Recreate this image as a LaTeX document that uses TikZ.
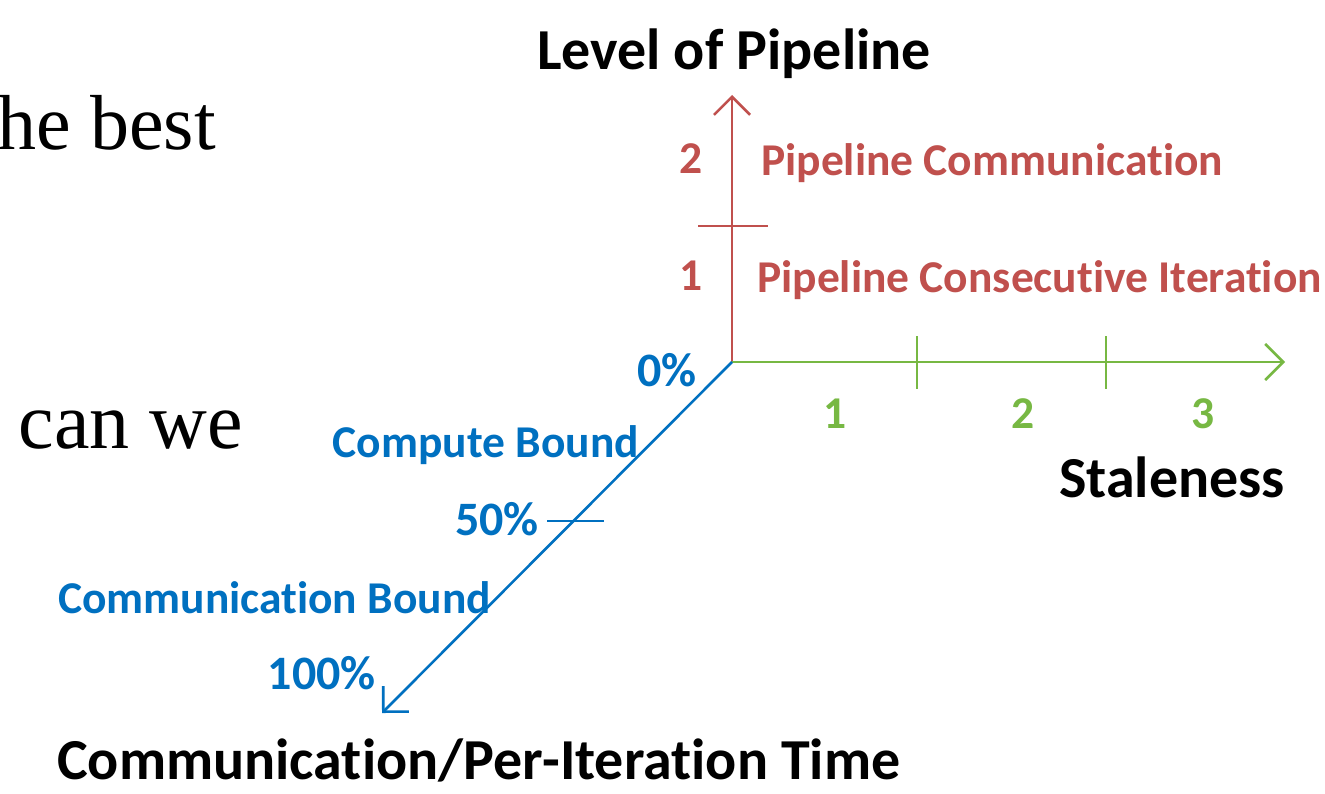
\documentclass[tikz,border=0pt]{standalone}
\usepackage{fontspec}
\setmainfont{Carlito}[Ligatures=NoCommon]
\newfontfamily\serifface{Liberation Serif}
\usetikzlibrary{arrows.meta}
\definecolor{axred}{HTML}{C0504D}
\definecolor{axgreen}{HTML}{77B843}
\definecolor{axblue}{HTML}{0070C0}
\begin{document}
\begin{tikzpicture}[x=1pt,y=-1pt,
  axisline/.style={line width=2.6pt, -{Straight Barb[length=18pt,width=36pt]}},
  tickline/.style={line width=2.6pt},
  bigtext/.style={font=\fontsize{58}{60}\selectfont\bfseries, inner sep=0pt},
  labtext/.style={font=\fontsize{45.5}{47}\selectfont\bfseries, inner sep=0pt},
  pcttext/.style={font=\fontsize{48}{50}\selectfont\bfseries, inner sep=0pt},
  sertext/.style={font=\serifface\fontsize{80}{84}\selectfont, inner sep=0pt}]
\useasboundingbox (0,0) rectangle (1325,794);
\fill[white] (0,0) rectangle (1325,794);

% background serif text
\node[sertext, anchor=base west, font=\serifface\fontsize{78}{82}\selectfont] (best) at (-3,150) {he best};
\node[sertext, anchor=base east] (canwe) at (243,448) {can we};

% axis coordinates
\coordinate (O) at (732,362);
\coordinate (Ytip) at (732,95);
\coordinate (Xtip) at (1285,362);
\coordinate (Ztip) at (382,713);
\coordinate (yt1) at (698,226);
\coordinate (yt2) at (768,226);
\coordinate (xa1) at (917,336);
\coordinate (xa2) at (917,389);
\coordinate (xb1) at (1106,336);
\coordinate (xb2) at (1106,389);
\coordinate (zt1) at (547,521);
\coordinate (zt2) at (604,521);

% axes
\draw[axisline, axred] (O) -- (Ytip);
\draw[axisline, axgreen] (O) -- (Xtip);
\draw[axisline, axblue] (O) -- (Ztip);
\draw[tickline, axred] (yt1) -- (yt2);
\draw[tickline, axgreen] (xa1) -- (xa2);
\draw[tickline, axgreen] (xb1) -- (xb2);
\draw[tickline, axblue] (zt1) -- (zt2);

% titles
\node[bigtext, anchor=base] (ylabel) at (734,70) {Level of Pipeline};
\node[bigtext, anchor=base east] (xlabel) at (1285,497) {Staleness};
\node[bigtext, anchor=base west] (zlabel) at (57,779) {Communication/Per-Iteration Time};

% red labels
\node[labtext, axred, anchor=base] (r2) at (691,173.5) {2};
\node[labtext, axred, anchor=base] (r1) at (691,290.5) {1};
\node[labtext, axred, anchor=base west] (rcomm) at (761,176) {Pipeline Communication};
\node[labtext, axred, anchor=base west] (rcons) at (757,293) {Pipeline Consecutive Iteration};

% green labels
\node[labtext, axgreen, anchor=base] (g1) at (835,428) {1};
\node[labtext, axgreen, anchor=base] (g2) at (1023,428) {2};
\node[labtext, axgreen, anchor=base] (g3) at (1203.5,428) {3};

% blue labels
\node[pcttext, axblue, anchor=base east] (b0) at (697,386) {0\%};
\node[labtext, axblue, anchor=base east] (bcomp) at (639,457) {Compute Bound};
\node[pcttext, axblue, anchor=base east] (b50) at (539,535) {50\%};
\node[labtext, axblue, anchor=base east] (bcomm) at (491,613) {Communication Bound};
\node[pcttext, axblue, anchor=base east] (b100) at (376,689) {100\%};
\end{tikzpicture}
\end{document}
